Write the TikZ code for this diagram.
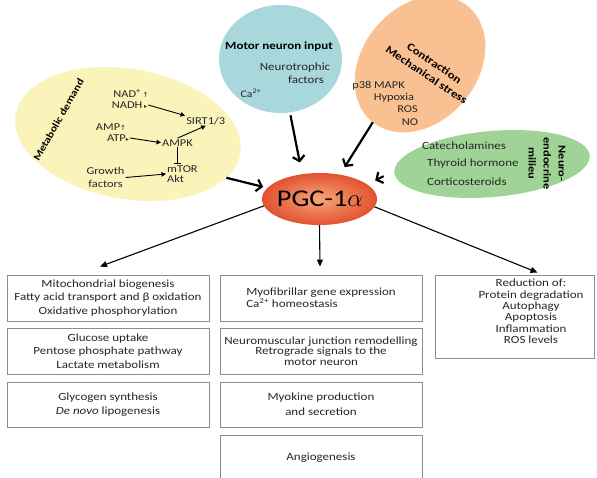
\documentclass[tikz,border=0pt]{standalone}
\usepackage{fontspec}
\setmainfont{Carlito}[FakeStretch=1.18]
\newfontfamily\symfont{DejaVu Sans}
\usetikzlibrary{shapes.geometric,arrows.meta}
\definecolor{yel}{RGB}{250,244,186}
\definecolor{blu}{RGB}{168,216,220}
\definecolor{ora}{RGB}{249,192,146}
\definecolor{gre}{RGB}{160,212,150}
\definecolor{pgcin}{RGB}{247,165,120}
\definecolor{pgcout}{RGB}{226,82,48}
\definecolor{txt}{RGB}{38,38,38}
\definecolor{boxline}{RGB}{140,140,140}
\newcommand\fsz[2]{\fontsize{#1}{#2}\selectfont}
\begin{document}
\begin{tikzpicture}[x=1pt,y=-1pt,
  blob/.style={ellipse,draw=none,inner sep=0pt,outer sep=0pt},
  lbl/.style={inner sep=1pt,text=txt,font=\fsz{10.5}{11}},
  head/.style={inner sep=1pt,text=black,font=\bfseries\fsz{10.5}{14}},
  bigarrow/.style={line width=2.2pt,-{Straight Barb[length=5pt,width=12pt]}},
  outarrow/.style={line width=1.1pt,-{Triangle[length=7pt,width=6pt]}},
  smallarrow/.style={line width=0.9pt,-{Triangle[length=4.5pt,width=4.5pt]}},
  inhib/.style={line width=0.9pt,-{Bar[width=7pt,line width=0.9pt]}},
  outbox/.style={draw=boxline,line width=0.9pt,minimum width=202pt,inner sep=0pt,align=center,text=txt,font=\fsz{11}{13.5}},
]
\useasboundingbox (0,0) rectangle (597,477);
\fill[white] (0,0) rectangle (597,477);

% input ellipses
\node[blob,fill=yel,minimum width=228pt,minimum height=130pt,rotate=-10] (metab) at (128,134) {};
\node[blob,fill=blu,minimum width=123pt,minimum height=108pt] (motor) at (280.5,59) {};
\node[blob,fill=ora,minimum width=150pt,minimum height=115pt,rotate=50] (contr) at (420,64) {};
\node[blob,fill=gre,minimum width=196pt,minimum height=66pt,rotate=5] (neuro) at (492,164) {};

% PGC-1alpha
\node[blob,shading=radial,inner color=pgcin,outer color=pgcout,minimum width=115pt,minimum height=52pt] (pgc) at (319.5,199) {};
\node[inner sep=0pt,font=\fsz{24}{26}] (pgct) at (320,199) {PGC-1$\alpha$};

% metabolic demand
\node[head,rotate=60.5,font=\bfseries\fsz{10}{12}] (metabt) at (58.5,120) {Metabolic demand};
\node[lbl] (nadp) at (131,93) {NAD\textsuperscript{+}\,{\symfont\fsz{7}{7}↑}};
\node[lbl] (nadh) at (129.5,105) {NADH\,{\symfont\fsz{6}{6}▸}};
\node[lbl] (amp) at (111,127) {AMP{\symfont\fsz{7}{7}↑}};
\node[lbl] (atp) at (118,138) {ATP{\symfont\fsz{6}{6}▸}};
\node[lbl] (sirt) at (205.7,120.7) {SIRT1/3};
\node[lbl] (ampk) at (177.5,142.7) {AMPK};
\node[lbl,anchor=west,align=left,font=\fsz{10.5}{10}] (mtor) at (166,174) {mTOR\\Akt};
\node[lbl,align=center,font=\fsz{10.5}{13}] (growth) at (105.5,177.5) {Growth\\factors};

\draw[smallarrow] (nadh.east) -- (sirt.north west);
\draw[smallarrow] (atp.east) -- (ampk.west);
\draw[smallarrow] (ampk.north) -- (sirt.south);
\draw[inhib] (ampk.south) -- (ampk.south |- mtor.north);
\draw[smallarrow] (growth.east) -- (mtor.west);

% motor neuron input
\node[head,font=\bfseries\fsz{11}{13}] (motort) at (279,47) {Motor neuron input};
\node[lbl,font=\fsz{11}{12}] (neurotr) at (295,68) {Neurotrophic};
\node[lbl,font=\fsz{11}{12}] (factors) at (306,80) {factors};
\node[lbl,font=\fsz{10}{11}] (ca) at (251,93) {Ca\textsuperscript{2+}};

% contraction
\node[head,rotate=-34,align=center,font=\bfseries\fsz{11}{14}] (contrt) at (430.5,69) {Contraction\\Mechanical stress};
\node[lbl,font=\fsz{10.5}{11}] (p38) at (378.5,86) {p38 MAPK};
\node[lbl,font=\fsz{10.5}{11}] (hyp) at (394,97.7) {Hypoxia};
\node[lbl,font=\fsz{10.5}{11}] (ros) at (407.5,109) {ROS};
\node[lbl,font=\fsz{10.5}{11}] (no) at (410,121.7) {NO};

% neuroendocrine
\node[lbl,anchor=west,font=\fsz{11}{12}] (cat) at (421,146) {Catecholamines};
\node[lbl,anchor=west,font=\fsz{11}{12}] (thy) at (426,163.3) {Thyroid hormone};
\node[lbl,anchor=west,font=\fsz{11}{12}] (cort) at (426,181.7) {Corticosteroids};
\node[head,rotate=-90,align=center,font=\bfseries\fsz{10.5}{15}] (neurot) at (547,163.5) {Neuro-\\endocrine\\milieu};

% input arrows
\draw[bigarrow,shorten >=4.5pt] (metab.-14) -- (pgc.168);
\draw[bigarrow,shorten <=3pt,shorten >=12pt] (motor.-80) -- (pgc.125);
\draw[bigarrow,shorten >=9pt] (contr.181) -- (pgc.50);
\draw[bigarrow,shorten <=12pt,shorten >=9pt] (neuro.179) -- (pgc.17);

% output boxes
\node[outbox,minimum height=46pt] (l1) at (108,298) {Mitochondrial biogenesis\\Fatty acid transport and β oxidation\\Oxidative phosphorylation};
\node[outbox,minimum height=46pt] (l2) at (108,351) {Glucose uptake\\Pentose phosphate pathway\\Lactate metabolism};
\node[outbox,minimum height=45pt,font=\fsz{11}{14}] (l3) at (108,404.5) {Glycogen synthesis\\\textit{De novo} lipogenesis};

\node[outbox,minimum height=46pt,align=left,font=\fsz{11}{12}] (m1) at (321,298) {Myofibrillar gene expression\\Ca\textsuperscript{2+} homeostasis};
\node[outbox,minimum height=46pt,font=\fsz{11}{10.5}] (m2) at (321,351) {Neuromuscular junction remodelling\\Retrograde signals to the\\motor neuron};
\node[outbox,minimum height=45pt,font=\fsz{11}{15}] (m3) at (321,404.5) {Myokine production\\and secretion};
\node[outbox,minimum height=46pt] (m4) at (321,458) {Angiogenesis};

\node[outbox,minimum width=159pt,minimum height=83pt] (r1) at (514.5,316.5) {};
\node[inner sep=0pt,align=center,text=txt,font=\fsz{11}{11.4}] (r1t) at (531,311.5) {Reduction of:\\Protein degradation\\Autophagy\\Apoptosis\\Inflammation\\ROS levels};

% output arrows
\draw[outarrow] (pgc.187) -- ([xshift=-8pt,yshift=8pt]l1.north);
\draw[outarrow] (pgc.south) -- ([xshift=-1pt,yshift=8pt]m1.north);
\draw[outarrow] (pgc.-8) -- ([xshift=23pt,yshift=2pt]r1.north);
\end{tikzpicture}
\end{document}
